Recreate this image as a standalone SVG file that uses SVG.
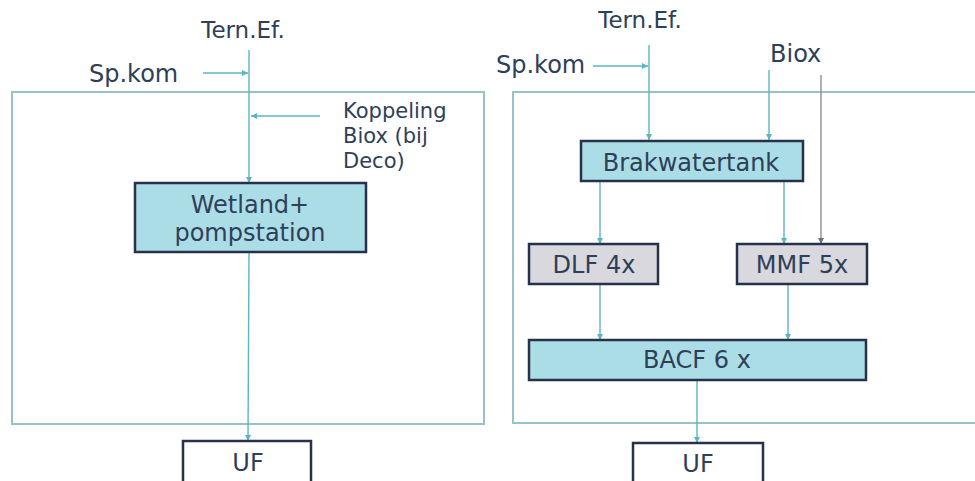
<svg xmlns="http://www.w3.org/2000/svg" width="975" height="481" viewBox="0 0 975 481">
<style>
text{font-family:"DejaVu Sans","Liberation Sans",sans-serif;fill:#2e4058;font-size:24px}
.c{text-anchor:middle}
.frame{fill:none;stroke:#97c3c6;stroke-width:2}
.box{stroke:#27314a;stroke-width:2.5}
.blue{fill:#abdde7}
.grey{fill:#d8d8de}
.white{fill:#ffffff}
.con{fill:none;stroke:#5ab6c4;stroke-width:1.4;marker-end:url(#ah)}
.gcon{fill:none;stroke:#8a8f98;stroke-width:1.4;marker-end:url(#ahg)}
</style>
<defs>
<marker id="ah" viewBox="0 0 6 6" refX="6" refY="3" markerWidth="6" markerHeight="6" markerUnits="userSpaceOnUse" orient="auto"><path d="M0,0 L6,3 L0,6 z" fill="#5ab6c4"/></marker>
<marker id="ahg" viewBox="0 0 6 6" refX="6" refY="3" markerWidth="6" markerHeight="6" markerUnits="userSpaceOnUse" orient="auto"><path d="M0,0 L6,3 L0,6 z" fill="#6a707a"/></marker>
</defs>
<rect width="975" height="481" fill="#ffffff"/>
<g id="frames">
<rect class="frame" x="12" y="92" width="472" height="332"/>
<rect class="frame" x="513" y="92" width="470" height="331"/>
</g>
<g id="labels">
<text class="c" x="243" y="38" style="font-size:23px">Tern.Ef.</text>
<text x="89" y="82">Sp.kom</text>
<text x="343" y="118" style="font-size:21px">Koppeling</text>
<text x="343" y="143" style="font-size:21px">Biox (bij</text>
<text x="343" y="168" style="font-size:21px">Deco)</text>
<text class="c" x="640" y="28" style="font-size:23px">Tern.Ef.</text>
<text x="496" y="73">Sp.kom</text>
<text x="770" y="62">Biox</text>
</g>
<g id="connectors">
<path class="con" d="M249,50 V183"/>
<path class="con" d="M203,73 H248"/>
<path class="con" d="M320,116 H251"/>
<path class="con" d="M249,252 L248,441"/>
<path class="con" d="M649,45 V140"/>
<path class="con" d="M593,66 H648"/>
<path class="con" d="M769,70 V140"/>
<path class="gcon" d="M821,75 V244"/>
<path class="con" d="M600,181 V244"/>
<path class="con" d="M784,181 V244"/>
<path class="con" d="M600,284 V340"/>
<path class="con" d="M788,284 V340"/>
<path class="con" d="M697,380 V443"/>
</g>
<g id="wetland">
<rect class="box blue" x="135" y="183" width="231" height="69"/>
<text class="c" x="250" y="213">Wetland+</text>
<text class="c" x="250" y="241">pompstation</text>
</g>
<g id="uf-left">
<rect class="box white" x="183" y="441" width="128" height="46"/>
<text class="c" x="248" y="471">UF</text>
</g>
<g id="brakwatertank">
<rect class="box blue" x="581" y="141" width="222" height="40"/>
<text class="c" x="691" y="171">Brakwatertank</text>
</g>
<g id="dlf">
<rect class="box grey" x="529" y="244" width="129" height="40"/>
<text class="c" x="594" y="273">DLF 4x</text>
</g>
<g id="mmf">
<rect class="box grey" x="737" y="244" width="130" height="40"/>
<text class="c" x="802" y="273">MMF 5x</text>
</g>
<g id="bacf">
<rect class="box blue" x="529" y="340" width="337" height="40"/>
<text class="c" x="697" y="368">BACF 6 x</text>
</g>
<g id="uf-right">
<rect class="box white" x="633" y="443" width="130" height="46"/>
<text class="c" x="698" y="472">UF</text>
</g>
</svg>
